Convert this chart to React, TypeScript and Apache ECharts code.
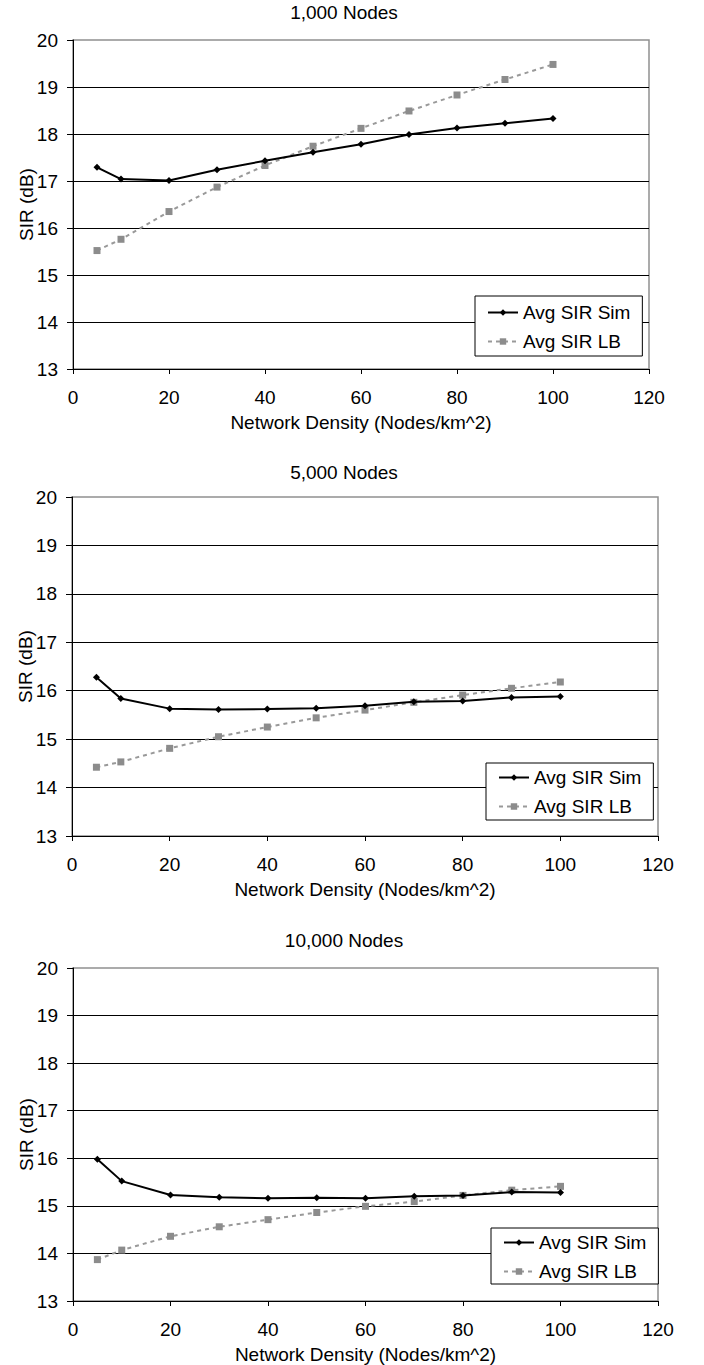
import React, { useEffect, useRef } from "react";
import * as echarts from "echarts";

// ---------- data ----------
const xValues = [5, 10, 20, 30, 40, 50, 60, 70, 80, 90, 100];

const sim1000 = [17.29, 17.04, 17.01, 17.24, 17.43, 17.61, 17.78, 17.99, 18.13, 18.23, 18.33];
const lb1000 = [15.52, 15.76, 16.35, 16.87, 17.33, 17.74, 18.12, 18.49, 18.83, 19.16, 19.48];

const sim5000 = [16.28, 15.84, 15.63, 15.61, 15.62, 15.64, 15.69, 15.77, 15.79, 15.86, 15.88];
const lb5000 = [14.42, 14.53, 14.81, 15.05, 15.25, 15.44, 15.6, 15.76, 15.91, 16.05, 16.18];

const sim10000 = [15.98, 15.52, 15.23, 15.18, 15.16, 15.17, 15.16, 15.2, 15.22, 15.29, 15.28];
const lb10000 = [13.87, 14.07, 14.36, 14.56, 14.71, 14.86, 14.99, 15.09, 15.22, 15.33, 15.41];

const chartTitles = ["1,000 Nodes", "5,000 Nodes", "10,000 Nodes"];
const seriesNames = ["Avg SIR Sim", "Avg SIR LB"];
const xAxisTitle = "Network Density (Nodes/km^2)";
const yAxisTitle = "SIR (dB)";
const xMin = 0, xMax = 120, xStep = 20;
const yMin = 13, yMax = 20, yStep = 1;

const simSets = [sim1000, sim5000, sim10000];
const lbSets = [lb1000, lb5000, lb10000];

// ---------- layout ----------
const grids = [
  { left: 73, top: 40, width: 576, height: 329 },
  { left: 72, top: 497, width: 586, height: 339 },
  { left: 73, top: 968, width: 585, height: 333 },
];
const titleTops = [3, 463, 931];
const legendPos = [
  { left: 475, top: 296, padding: [7, 12, 5, 12] },
  { left: 486, top: 763, padding: [5, 12, 4, 12] },
  { left: 491, top: 1228, padding: [5, 12, 3, 12] },
];

const FONT = "'Liberation Sans', Arial, sans-serif";
const FS = 19;

export default function App() {
  const ref = useRef<HTMLDivElement>(null);

  useEffect(() => {
    document.body.style.margin = "0";
    if (!ref.current) return;
    const chart = echarts.init(ref.current, null, { renderer: "svg" });

    const option: any = {
      animation: false,
      backgroundColor: "#fff",
      textStyle: { fontFamily: FONT, color: "#000" },
      title: chartTitles.map((t, i) => ({
        text: t,
        left: 344,
        top: titleTops[i],
        textAlign: "center",
        padding: 0,
        textStyle: { fontFamily: FONT, fontSize: FS, fontWeight: "normal", color: "#000" },
      })),
      grid: grids.map((g) => ({
        ...g,
        show: true,
        borderColor: "#909090",
        borderWidth: 1.5,
        backgroundColor: "transparent",
      })),
      legend: legendPos.map((p) => ({
        orient: "vertical",
        left: p.left,
        top: p.top,
        padding: p.padding,
        itemGap: 10,
        itemWidth: 30,
        itemHeight: 8,
        backgroundColor: "#fff",
        borderColor: "#000",
        borderWidth: 1,
        borderRadius: 0,
        data: seriesNames,
        selectedMode: false,
        textStyle: { fontFamily: FONT, fontSize: FS, color: "#000" },
      })),
      xAxis: grids.map((_, i) => ({
        type: "value",
        gridIndex: i,
        min: xMin,
        max: xMax,
        interval: xStep,
        name: xAxisTitle,
        nameLocation: "middle",
        nameGap: 44,
        nameTextStyle: { fontFamily: FONT, fontSize: FS, color: "#000" },
        axisLine: { show: true, onZero: false, lineStyle: { color: "#000", width: 1 } },
        axisTick: { show: true, length: 5, lineStyle: { color: "#000" } },
        axisLabel: { fontFamily: FONT, fontSize: FS, color: "#000", margin: 19 },
        splitLine: { show: false },
      })),
      yAxis: grids.map((_, i) => ({
        type: "value",
        gridIndex: i,
        min: yMin,
        max: yMax,
        interval: yStep,
        name: yAxisTitle,
        nameLocation: "middle",
        nameGap: 37,
        nameMoveOverlap: false,
        nameTextStyle: { fontFamily: FONT, fontSize: FS, color: "#000" },
        axisLine: { show: true, lineStyle: { color: "#000", width: 1 } },
        axisTick: { show: true, length: 6, lineStyle: { color: "#000" } },
        axisLabel: { fontFamily: FONT, fontSize: FS, color: "#000", margin: 15 },
        splitLine: {
          show: true,
          showMinLine: false,
          showMaxLine: false,
          lineStyle: { color: "#000", width: 1 },
        },
      })),
      series: grids.flatMap((_, i) => [
        {
          name: seriesNames[1],
          type: "line",
          xAxisIndex: i,
          yAxisIndex: i,
          data: xValues.map((x, k) => [x, lbSets[i][k]]),
          symbol: "rect",
          symbolSize: 7,
          itemStyle: { color: "#8c8c8c" },
          lineStyle: { color: "#999999", width: 2, type: [4, 4] },
          z: 2,
        },
        {
          name: seriesNames[0],
          type: "line",
          xAxisIndex: i,
          yAxisIndex: i,
          data: xValues.map((x, k) => [x, simSets[i][k]]),
          symbol: "diamond",
          symbolSize: 7,
          itemStyle: { color: "#000" },
          lineStyle: { color: "#000", width: 2 },
          z: 3,
        },
      ]),
    };

    chart.setOption(option);
    return () => chart.dispose();
  }, []);

  return <div ref={ref} style={{ width: 704, height: 1365 }} />;
}
